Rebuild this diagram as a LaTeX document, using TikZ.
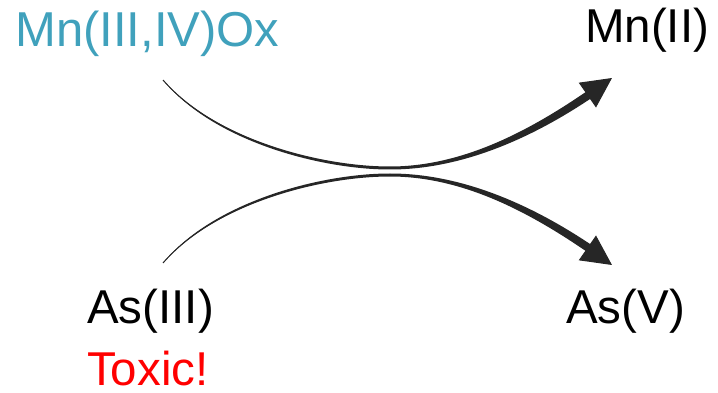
\documentclass[tikz,border=0pt]{standalone}
\usepackage{fontspec}
\setmainfont{Liberation Sans}
\usepackage{xcolor}
\usetikzlibrary{arrows.meta}
\definecolor{mnteal}{RGB}{64,161,188}
\tikzset{
    species/.style={anchor=base west, inner sep=0pt, font=\fontsize{47.5}{50}\selectfont},
    flow/.style={line width=1pt, -{Triangle[length=30pt, width=30pt]}},
    flowbody/.style={fill=black!85, draw=none}
}

\begin{document}
\begin{tikzpicture}[x=1pt, y=-1pt, black!85]
    \useasboundingbox (0,0) rectangle (718,393);

    % Labels
    \node[species, mnteal, font=\fontsize{49}{52}\selectfont] (mnox) at (15,47) {Mn(III,IV)Ox};
    \node[species, black] (mnii) at (585,43) {Mn(II)};
    \node[species, black] (asiii) at (87,323) {As(III)};
    \node[species, red] (toxic) at (87,385.5) {Toxic!};
    \node[species, black] (asv) at (566,323) {As(V)};

    % Free ends of the two curves
    \coordinate (mnstart) at (163,80);
    \coordinate (mnmid) at (390,168);
    \coordinate (mnend) at (612,78);
    \coordinate (asstart) at (163,263);
    \coordinate (asmid) at (390,175);
    \coordinate (asend) at (612,265);

    % Mn curve: thin start, thicker towards the arrow
    \fill[flowbody] (mnstart) .. controls (215,139) and (320,166.5) .. (390,166.5)
        .. controls (462,166.5) and (528,131.5) .. (586.5,91.5) -- (591.5,98)
        .. controls (532,138) and (462,169.5) .. (390,169.5)
        .. controls (320,169.5) and (213,141) .. (mnstart) -- cycle;
    \draw[flow] (mnstart) .. controls (215,140) and (320,168) .. (mnmid)
        .. controls (462,168) and (530,135) .. (mnend);

    % As curve (mirror image of the Mn curve)
    \fill[flowbody] (asstart) .. controls (215,204) and (320,176.5) .. (390,176.5)
        .. controls (462,176.5) and (528,211.5) .. (586.5,251.5) -- (591.5,245)
        .. controls (532,205) and (462,173.5) .. (390,173.5)
        .. controls (320,173.5) and (213,202) .. (asstart) -- cycle;
    \draw[flow] (asstart) .. controls (215,203) and (320,175) .. (asmid)
        .. controls (462,175) and (530,208) .. (asend);
\end{tikzpicture}
\end{document}
